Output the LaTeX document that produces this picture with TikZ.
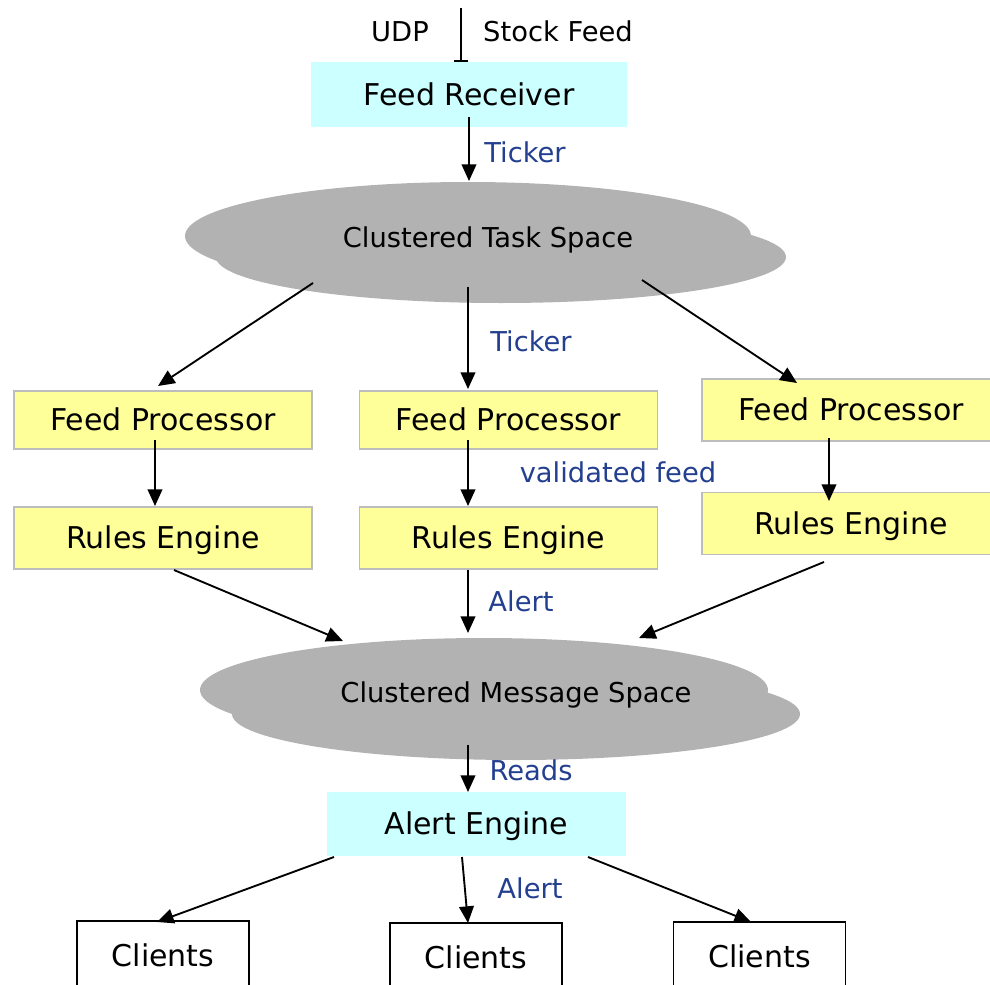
\documentclass[tikz,border=0pt]{standalone}
\usepackage{fontspec}
\setmainfont{DejaVu Sans}
\usetikzlibrary{arrows.meta}
\definecolor{cyanbox}{HTML}{CCFFFF}
\definecolor{yellowbox}{HTML}{FFFF99}
\definecolor{yellowedge}{HTML}{BDBDBD}
\definecolor{cloudgray}{HTML}{B2B2B2}
\definecolor{labelblue}{HTML}{233F8F}
\begin{document}
\begin{tikzpicture}[x=0.75pt,y=-0.75pt,
  bigtext/.style={font=\fontsize{22.5}{27}\selectfont, text height=16.4pt, text depth=0pt, inner sep=0pt},
  smalltext/.style={font=\fontsize{20.5}{25}\selectfont, text height=15pt, text depth=0pt, inner sep=0pt},
  cyannode/.style={bigtext, fill=cyanbox, minimum width=#1},
  procbox/.style={bigtext, fill=yellowbox, draw=yellowedge, line width=1.4pt, minimum width=223.5pt, minimum height=#1},
  clientbox/.style={bigtext, fill=white, draw=black, line width=1.2pt, minimum width=129pt, minimum height=52.5pt},
  cloudpart/.style={fill=cloudgray},
  cloudtext/.style={smalltext},
  edgelabel/.style={smalltext, text=labelblue},
  flow/.style={draw=black, line width=1.4pt, -{Triangle[length=12.5pt,width=11pt]}}
]
\useasboundingbox (0,0) rectangle (990,985);
\clip (0,0) rectangle (990,985);

% incoming stock feed
\node[smalltext] (udp) at (400,31) {UDP};
\node[smalltext] (stock) at (558,31) {Stock Feed};
\coordinate (feedtop) at (461,8);

% feed receiver
\node[cyannode=237pt, minimum height=48.75pt] (recv) at (469,94.5) {Feed Receiver};
\draw[line width=1.4pt, -{Bar[width=11pt]}] (feedtop) -- (feedtop |- recv.north);

% clustered task space cloud
\fill[cloudpart] (468,236) ellipse [x radius=283, y radius=54];
\fill[cloudpart] (501,257) ellipse [x radius=285, y radius=46];
\node[cloudtext] (task) at (488,237) {Clustered Task Space};

% clustered message space cloud
\fill[cloudpart] (484,690) ellipse [x radius=284, y radius=52];
\fill[cloudpart] (516,714) ellipse [x radius=284, y radius=46];
\node[cloudtext] (msg) at (516,692) {Clustered Message Space};

% processors and rules engines
\node[procbox=43.5pt] (fp1) at (163,420) {Feed Processor};
\node[procbox=43.5pt] (fp2) at (508.5,420) {Feed Processor};
\node[procbox=46.5pt] (fp3) at (851,410) {Feed Processor};
\node[procbox=46.5pt] (re1) at (163,538) {Rules Engine};
\node[procbox=46.5pt] (re2) at (508.5,538) {Rules Engine};
\node[procbox=46.5pt] (re3) at (851,523.5) {Rules Engine};

% alert engine and clients
\node[cyannode=224.25pt, minimum height=48pt] (alert) at (476.5,824) {Alert Engine};
\node[clientbox] (c1) at (163,956) {Clients};
\node[clientbox] (c2) at (476,958) {Clients};
\node[clientbox] (c3) at (759.5,957) {Clients};

% connector end points
\coordinate (recvout) at (469,117);
\coordinate (taskin) at (469,181);
\coordinate (taskL) at (313,283);
\coordinate (taskM) at (468,287);
\coordinate (taskR) at (642,280);
\coordinate (fp1in) at (158,386);
\coordinate (fp2in) at (468,389);
\coordinate (fp3in) at (797,383);
\coordinate (fp1out) at (155,440);
\coordinate (fp2out) at (468,440);
\coordinate (fp3out) at (829,438);
\coordinate (re1in) at (155,506);
\coordinate (re2in) at (468,506);
\coordinate (re3in) at (829,501);
\coordinate (re1out) at (174,570);
\coordinate (re2out) at (468,570);
\coordinate (re3out) at (824,562);
\coordinate (msgL) at (343,641);
\coordinate (msgM) at (468,633);
\coordinate (msgR) at (639,638);
\coordinate (msgout) at (468,745);
\coordinate (alertin) at (468,792);
\coordinate (alertL) at (334,857);
\coordinate (alertM) at (462,857);
\coordinate (alertR) at (588,857);
\coordinate (c1in) at (157,922);
\coordinate (c2in) at (468,923);
\coordinate (c3in) at (751,922);

\draw[flow] (recvout) -- (taskin);
\draw[flow] (taskL) -- (fp1in);
\draw[flow] (taskM) -- (fp2in);
\draw[flow] (taskR) -- (fp3in);
\draw[flow] (fp1out) -- (re1in);
\draw[flow] (fp2out) -- (re2in);
\draw[flow] (fp3out) -- (re3in);
\draw[flow] (re1out) -- (msgL);
\draw[flow] (re2out) -- (msgM);
\draw[flow] (re3out) -- (msgR);
\draw[flow] (msgout) -- (alertin);
\draw[flow] (alertL) -- (c1in);
\draw[flow] (alertM) -- (c2in);
\draw[flow] (alertR) -- (c3in);

% connector labels
\node[edgelabel] (l1) at (525,152) {Ticker};
\node[edgelabel] (l2) at (531,341) {Ticker};
\node[edgelabel] (l3) at (618,472) {validated feed};
\node[edgelabel] (l4) at (521,601) {Alert};
\node[edgelabel] (l5) at (531,770) {Reads};
\node[edgelabel] (l6) at (530,888) {Alert};
\end{tikzpicture}
\end{document}
